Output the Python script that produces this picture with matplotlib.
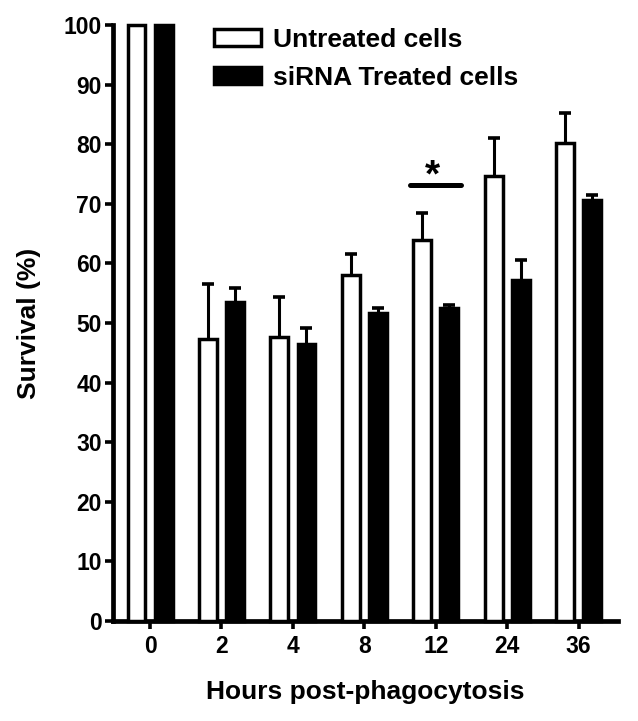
import numpy as np
import matplotlib.pyplot as plt

plt.rcParams['font.family'] = ['Liberation Sans', 'DejaVu Sans']
plt.rcParams['font.weight'] = 'bold'

hours = ['0', '2', '4', '8', '12', '24', '36']
untreated = [100, 47.4, 47.6, 58.0, 63.9, 74.6, 80.2]
untreated_err = [0, 9.2, 6.8, 3.6, 4.6, 6.5, 5.0]
treated = [100, 53.5, 46.4, 51.7, 52.6, 57.2, 70.7]
treated_err = [0, 2.3, 2.7, 0.9, 0.4, 3.4, 0.8]

fig = plt.figure(figsize=(6.38, 7.21), dpi=100)
ax = fig.add_axes([0.177, 0.1387, 0.7915, 0.8266])

x = np.arange(len(hours))
w = 0.25
off = 0.19
b1 = ax.bar(x - off, untreated, w, color='white', edgecolor='black',
            linewidth=2.5, clip_on=False, label='Untreated cells', zorder=3)
b2 = ax.bar(x + off, treated, w, color='black', edgecolor='black',
            linewidth=2.5, clip_on=False, label='siRNA Treated cells', zorder=3)

for xs, vals, errs in [(x - off, untreated, untreated_err), (x + off, treated, treated_err)]:
    xs_e = [xx for xx, e in zip(xs, errs) if e > 0]
    v_e = [v for v, e in zip(vals, errs) if e > 0]
    e_e = [e for e in errs if e > 0]
    eb = ax.errorbar(xs_e, v_e, yerr=[np.zeros(len(e_e)), e_e], fmt='none',
                     ecolor='black', elinewidth=2.2, capsize=4.5, capthick=2.6, zorder=2)
    eb[1][0].set_visible(False)

# significance marker over 12 h
ax.plot([4 - 0.36, 4 + 0.36], [73.1, 73.1], color='black', lw=3.6,
        solid_capstyle='round')
ax.text(3.95, 74.6, '*', ha='center', va='center', fontsize=28, fontweight='bold')

ax.set_xlim(-0.52, 6.55)
ax.set_ylim(0, 100)
ax.set_xticks(x)
ax.set_xticklabels(hours)
ax.set_yticks(np.arange(0, 101, 10))

for s in ['top', 'right']:
    ax.spines[s].set_visible(False)
for s in ['left', 'bottom']:
    ax.spines[s].set_linewidth(3.4)
ax.tick_params(axis='both', width=2.6, length=6, labelsize=16.5, pad=2)
ax.tick_params(axis='x', pad=4)

ax.set_xlabel('Hours post-phagocytosis', fontsize=19, fontweight='bold', labelpad=16)
ax.set_ylabel('Survival (%)', fontsize=19, fontweight='bold', labelpad=16)

ax.legend(handles=[b1, b2], loc='upper left', bbox_to_anchor=(0.2, 0.995),
          frameon=False, fontsize=19, handlelength=1.8, handleheight=0.6,
          handletextpad=0.45, labelspacing=0.52, borderpad=0, borderaxespad=0)

fig.savefig('out.png', dpi=100)
